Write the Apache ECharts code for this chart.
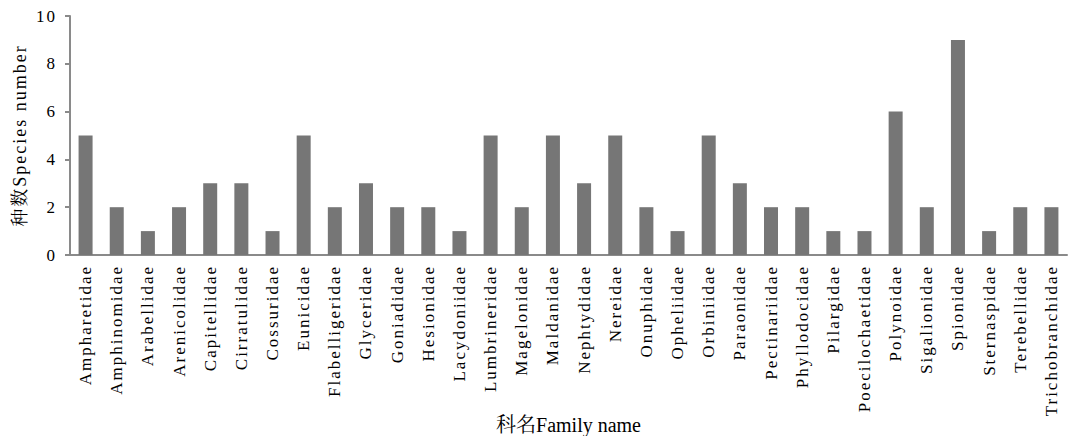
<!DOCTYPE html>
<html>
<head>
<meta charset="utf-8">
<style>
  html, body { margin: 0; padding: 0; background: #fff; }
  #chart { width: 1072px; height: 436px; }
  #chart text { letter-spacing: 2px; }
</style>
<script src="https://cdn.jsdelivr.net/npm/echarts@6/dist/echarts.min.js"></script>
</head>
<body>
<div id="chart"></div>
<script>
// Polychaete families and the number of species recorded in each
const families = [
  'Ampharetidae', 'Amphinomidae', 'Arabellidae', 'Arenicolidae', 'Capitellidae',
  'Cirratulidae', 'Cossuridae', 'Eunicidae', 'Flabelligeridae', 'Glyceridae',
  'Goniadidae', 'Hesionidae', 'Lacydoniidae', 'Lumbrineridae', 'Magelonidae',
  'Maldanidae', 'Nephtydidae', 'Nereidae', 'Onuphidae', 'Opheliidae',
  'Orbiniidae', 'Paraonidae', 'Pectinariidae', 'Phyllodocidae', 'Pilargidae',
  'Poecilochaetidae', 'Polynoidae', 'Sigalionidae', 'Spionidae', 'Sternaspidae',
  'Terebellidae', 'Trichobranchidae'
];
const speciesCounts = [
  5, 2, 1, 2, 3,
  3, 1, 5, 2, 3,
  2, 2, 1, 5, 2,
  5, 3, 5, 2, 1,
  5, 3, 2, 2, 1,
  1, 6, 2, 9, 1,
  2, 2
];
const yTicks = [0, 2, 4, 6, 8, 10];

const xTitle = '科名Family name';
const yTitle = '种数Species number';

const FONT = 'Liberation Serif, Noto Serif CJK SC, Noto Sans CJK SC, serif';
const AXIS_COLOR = '#8a8a8a';

const chart = echarts.init(document.getElementById('chart'), null, { renderer: 'svg' });

chart.setOption({
  animation: false,
  backgroundColor: '#ffffff',
  grid: {
    left: 70, right: 5, top: 16, bottom: 181,
    containLabel: false,
    outerBoundsMode: 'none'
  },
  xAxis: {
    type: 'category',
    data: families,
    boundaryGap: true,
    name: xTitle,
    nameLocation: 'middle',
    nameGap: 160,
    nameTextStyle: { fontFamily: FONT, fontSize: 20, color: '#000' },
    axisLine: { lineStyle: { color: AXIS_COLOR, width: 2 } },
    axisTick: { alignWithLabel: false, length: 6, lineStyle: { color: AXIS_COLOR, width: 2 } },
    axisLabel: {
      interval: 0,
      rotate: 90,
      margin: 10,
      fontFamily: FONT,
      fontSize: 17,
      color: '#000'
    },
    splitLine: { show: false }
  },
  yAxis: {
    type: 'value',
    min: yTicks[0],
    max: yTicks[yTicks.length - 1],
    interval: yTicks[1] - yTicks[0],
    name: yTitle,
    nameLocation: 'middle',
    nameGap: 41,
    nameRotate: 90,
    nameTextStyle: { fontFamily: FONT, fontSize: 18, color: '#000' },
    axisLine: { show: true, lineStyle: { color: AXIS_COLOR, width: 2 } },
    axisTick: { show: true, length: 5, lineStyle: { color: AXIS_COLOR, width: 2 } },
    axisLabel: { margin: 13, fontFamily: FONT, fontSize: 17, color: '#000' },
    splitLine: { show: false }
  },
  series: [{
    type: 'bar',
    data: speciesCounts,
    barWidth: 14,
    itemStyle: { color: '#767676' }
  }]
});

// The axis title reads as a normal, unspaced line
function unspaceTitle() {
  document.querySelectorAll('#chart text').forEach(t => {
    if (t.textContent === xTitle) t.style.letterSpacing = '0px';
  });
}
chart.on('finished', unspaceTitle);
unspaceTitle();
</script>
</body>
</html>
